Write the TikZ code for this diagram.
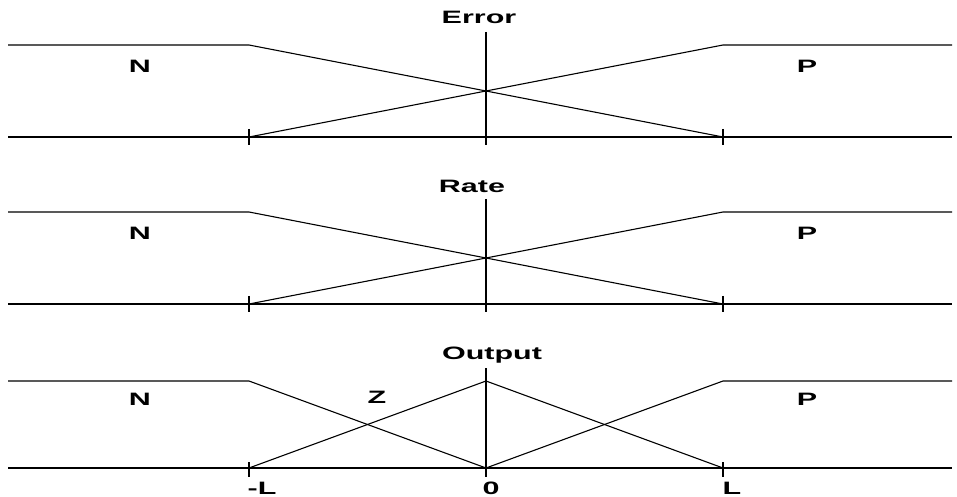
\documentclass[tikz,border=0pt]{standalone}
\usepackage{fontspec}
\setmainfont{Liberation Sans}
\usetikzlibrary{calc}
\newcommand\widetext[1]{\scalebox{1.7}[1]{#1}}

\begin{document}
\begin{tikzpicture}[x=1bp,y=-1bp,line width=1.1bp,line join=round,
  lab/.style={font=\bfseries\fontsize{18}{18}\selectfont,inner sep=0pt,anchor=base}]
  \useasboundingbox (0,0) rectangle (957,497);
  % Error and Rate: N and P only
  \foreach \p/\top/\bas/\ttl/\tx/\ty in {e/45/137/Error/479/24, r/212/304/Rate/472/193} {
    \coordinate (\p-l) at (8,\bas); \coordinate (\p-r) at (952,\bas);
    \coordinate (\p-nl) at (8,\top); \coordinate (\p-nk) at (249,\top);
    \coordinate (\p-pk) at (723,\top); \coordinate (\p-pr) at (952,\top);
    \coordinate (\p-ml) at (249,\bas); \coordinate (\p-mr) at (723,\bas);
    \coordinate (\p-ax) at (486,\top-13); \coordinate (\p-az) at (486,\bas+8);
    \draw (\p-l) -- (\p-r);
    \draw (\p-ax) -- (\p-az);
    \draw (\p-nl) -- (\p-nk) -- (\p-mr);
    \draw (\p-ml) -- (\p-pk) -- (\p-pr);
    \foreach \q in {ml,mr} \draw ($(\p-\q)+(0,-8)$) -- ($(\p-\q)+(0,8)$);
    \node[lab] (\p-t) at (\tx,\ty) {\widetext{\ttl}};
    \node[lab] (\p-n) at (140,\top+28) {\widetext{N}};
    \node[lab] (\p-p) at (807,\top+28) {\widetext{P}};
  }
  % Output: N, Z, P
  \coordinate (o-l) at (8,468); \coordinate (o-r) at (952,468);
  \coordinate (o-nl) at (8,381); \coordinate (o-nk) at (249,381);
  \coordinate (o-pk) at (723,381); \coordinate (o-pr) at (952,381);
  \coordinate (o-ml) at (249,468); \coordinate (o-mr) at (723,468);
  \coordinate (o-z) at (486,468); \coordinate (o-zt) at (486,381);
  \coordinate (o-ax) at (486,368); \coordinate (o-az) at (486,477);
  \draw (o-l) -- (o-r);
  \draw (o-ax) -- (o-az);
  \draw (o-nl) -- (o-nk) -- (o-z);
  \draw (o-ml) -- (o-zt) -- (o-mr);
  \draw (o-z) -- (o-pk) -- (o-pr);
  \foreach \q in {ml,mr} \draw ($(o-\q)+(0,-6)$) -- ($(o-\q)+(0,9)$);
  \node[lab] (o-t) at (492,360) {\widetext{Output}};
  \node[lab] (o-n) at (140,405) {\widetext{N}};
  \node[lab] (o-zz) at (377,403) {\widetext{Z}};
  \node[lab] (o-p) at (807,405) {\widetext{P}};
  \node[lab] (o-lm) at (262,494) {\widetext{-L}};
  \node[lab] (o-l0) at (491,494) {\widetext{0}};
  \node[lab] (o-lp) at (732,494) {\widetext{L}};
\end{tikzpicture}
\end{document}
